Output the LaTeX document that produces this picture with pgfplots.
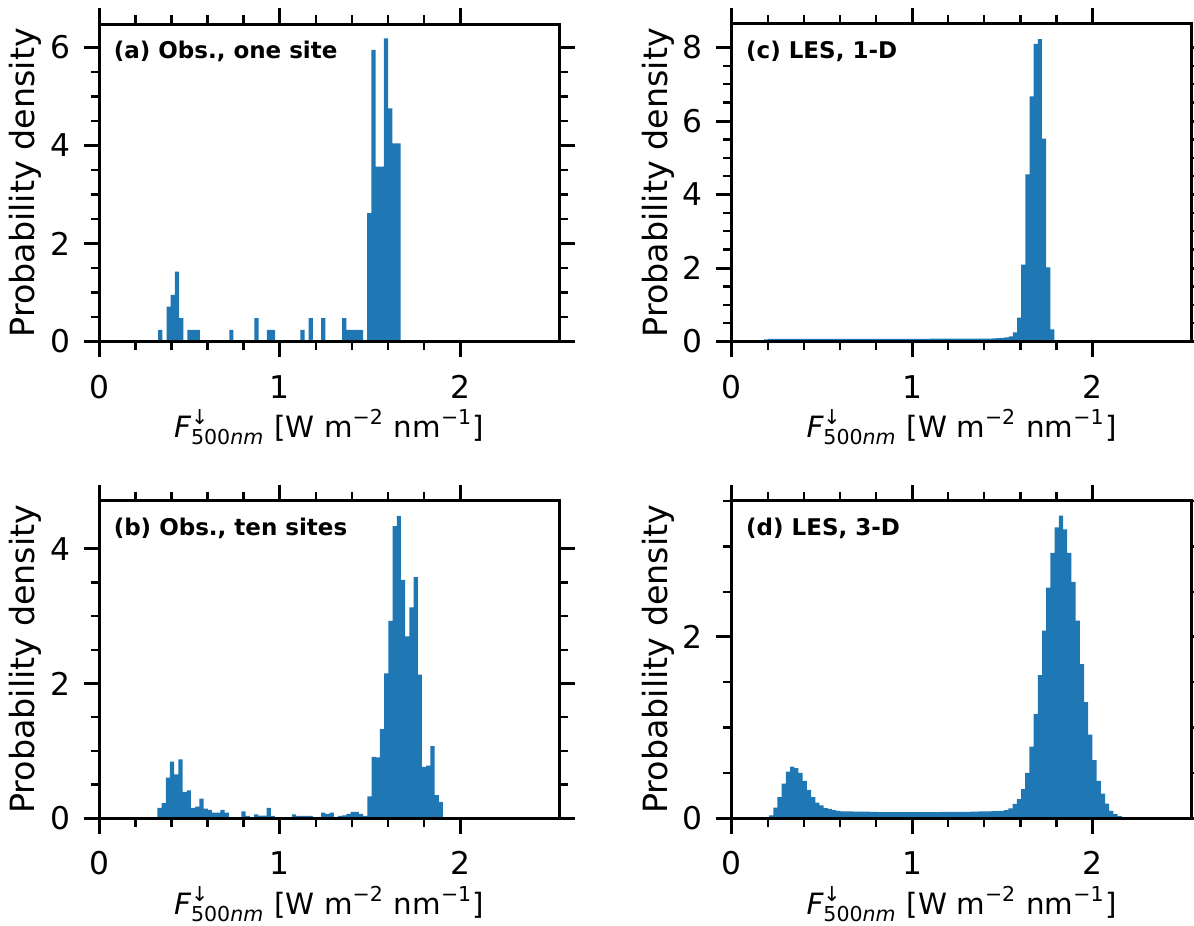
\documentclass[border=0pt]{standalone}
\usepackage{fontspec}
\setmainfont{DejaVu Sans}
\usepackage{amsmath}
\usepackage{pgfplots}
\pgfplotsset{compat=1.18}
\definecolor{histblue}{RGB}{31,119,180}

\pgfplotsset{
  panel/.style={
    scale only axis, width=138pt, height=95.25pt,
    xmin=0, xmax=2.55, ymin=0,
    xtick={0,1,2}, minor x tick num=4,
    ytick distance=2, minor y tick num=3,
    tick align=outside,
    major tick length=4.7pt, minor tick length=2.6pt,
    every major tick/.append style={line width=0.9pt, black},
    every minor tick/.append style={line width=0.7pt, black},
    axis line style={line width=0.9pt},
    axis on top,
    /pgf/number format/assume math mode=true,
    tick label style={font=\fontsize{9.4}{11}\selectfont},
    xticklabel style={anchor=base, yshift=-12.3pt},
    yticklabel style={anchor=east, inner sep=0pt, xshift=-3.9pt},
    label style={font=\fontsize{9.6}{11}\selectfont},
    every axis x label/.style={at={(axis description cs:0.5,-0.303)}, anchor=base,
      font=\fontsize{8.8}{10}\selectfont},
    every axis y label/.style={at={(axis description cs:-0.14,0.5)}, rotate=90, anchor=base},
    xlabel={$\textit{F}^{\text{↓}}_{\text{500}\textit{nm}}$ [W m\textsuperscript{−2} nm\textsuperscript{−1}]},
    ylabel={Probability density},
  },
  hist/.style={const plot, fill=histblue, draw=none, mark=none},
}
\tikzset{tag/.style={anchor=base west, inner sep=0pt, font=\bfseries\fontsize{6.9}{8}\selectfont}}

\begin{document}
\begin{tikzpicture}

% (a) observations, one site
\begin{axis}[panel, at={(29.79pt,-102.45pt)}, anchor=south west, ymax=6.48]
\addplot[hist] coordinates {
(0.3263,0.238) (0.3495,0) (0.3727,0.714) (0.3958,0.952) (0.4190,1.428) (0.4422,0.476)
(0.4654,0) (0.4886,0.238) (0.5117,0.238) (0.5349,0.238) (0.5581,0) (0.5813,0)
(0.6045,0) (0.6276,0) (0.6508,0) (0.6740,0) (0.6972,0) (0.7204,0.238) (0.7435,0)
(0.7667,0) (0.7899,0) (0.8131,0) (0.8363,0) (0.8594,0.476) (0.8826,0) (0.9058,0)
(0.9290,0.238) (0.9522,0.238) (0.9753,0) (0.9985,0) (1.0217,0) (1.0449,0) (1.0681,0)
(1.0912,0) (1.1144,0.238) (1.1376,0) (1.1608,0.476) (1.1840,0) (1.2071,0) (1.2303,0.476)
(1.2535,0) (1.2767,0) (1.2999,0) (1.3230,0) (1.3462,0.476) (1.3694,0.238) (1.3926,0.238)
(1.4158,0.238) (1.4389,0.238) (1.4621,0) (1.4853,2.618) (1.5085,5.950) (1.5317,3.570)
(1.5548,3.570) (1.5780,6.188) (1.6012,4.760) (1.6244,4.046) (1.6476,4.046) (1.6707,0)
} \closedcycle;
\node[tag] at (rel axis cs:0.03,0.89) {(a) Obs., one site};
\end{axis}

% (b) observations, ten sites
\begin{axis}[panel, at={(29.79pt,-245.4pt)}, anchor=south west, ymax=4.72]
\addplot[hist] coordinates {
(0.3220,0.15) (0.3453,0.22) (0.3686,0.60) (0.3918,0.84) (0.4151,0.65) (0.4384,0.87)
(0.4617,0.39) (0.4850,0.41) (0.5082,0.15) (0.5315,0.17) (0.5548,0.29) (0.5781,0.14)
(0.6014,0.12) (0.6246,0.08) (0.6479,0.08) (0.6712,0.12) (0.6945,0.08) (0.7178,0)
(0.7410,0) (0.7643,0) (0.7876,0.10) (0.8109,0.03) (0.8342,0) (0.8574,0.055)
(0.8807,0.035) (0.9040,0.035) (0.9273,0.15) (0.9506,0.03) (0.9738,0) (0.9971,0)
(1.0204,0) (1.0437,0) (1.0670,0.055) (1.0902,0.03) (1.1135,0.03) (1.1368,0.03)
(1.1601,0.03) (1.1834,0) (1.2066,0) (1.2299,0.08) (1.2532,0.06) (1.2765,0.08)
(1.2998,0) (1.3230,0.03) (1.3463,0.04) (1.3696,0.06) (1.3929,0.09) (1.4162,0.09)
(1.4394,0.06) (1.4627,0.03) (1.4860,0.32) (1.5093,0.91) (1.5326,0.90) (1.5558,1.32)
(1.5791,2.15) (1.6024,2.93) (1.6257,4.34) (1.6490,4.49) (1.6722,3.54) (1.6955,2.70)
(1.7188,3.13) (1.7421,3.58) (1.7654,2.13) (1.7886,0.76) (1.8119,0.78) (1.8352,1.07)
(1.8585,0.34) (1.8818,0.24) (1.9050,0)
} \closedcycle;
\node[tag] at (rel axis cs:0.03,0.89) {(b) Obs., ten sites};
\end{axis}

% (c) LES, 1-D
\begin{axis}[panel, at={(219.51pt,-102.45pt)}, anchor=south west, ymax=8.64]
\addplot[hist] coordinates {
(0.156,0.04) (0.179,0.06) (0.202,0.07) (0.225,0.07) (0.248,0.07) (0.271,0.07)
(0.294,0.07) (0.317,0.07) (0.340,0.07) (0.363,0.07) (0.386,0.07) (0.409,0.07)
(0.432,0.07) (0.455,0.07) (0.478,0.07) (0.501,0.07) (0.524,0.07) (0.547,0.07)
(0.570,0.07) (0.593,0.07) (0.616,0.07) (0.639,0.07) (0.662,0.07) (0.685,0.07)
(0.708,0.07) (0.731,0.07) (0.754,0.07) (0.777,0.07) (0.800,0.07) (0.823,0.07)
(0.846,0.07) (0.869,0.07) (0.892,0.07) (0.915,0.07) (0.938,0.07) (0.961,0.07)
(0.984,0.07) (1.007,0.07) (1.030,0.07) (1.053,0.07) (1.076,0.07) (1.099,0.075)
(1.122,0.075) (1.145,0.075) (1.168,0.075) (1.191,0.075) (1.214,0.075) (1.237,0.075)
(1.260,0.075) (1.283,0.075) (1.306,0.075) (1.329,0.08) (1.352,0.08) (1.375,0.08)
(1.398,0.08) (1.421,0.08) (1.444,0.085) (1.467,0.09) (1.490,0.10) (1.513,0.11)
(1.536,0.14) (1.559,0.25) (1.582,0.65) (1.605,2.09) (1.628,4.55) (1.651,6.67)
(1.674,8.10) (1.697,8.23) (1.720,5.52) (1.743,2.02) (1.766,0.33) (1.789,0)
} \closedcycle;
\node[tag] at (rel axis cs:0.03,0.89) {(c) LES, 1-D};
\end{axis}

% (d) LES, 3-D
\begin{axis}[panel, at={(219.51pt,-245.4pt)}, anchor=south west, ymax=3.508]
\addplot[hist] coordinates {
(0.2070,0.030) (0.2303,0.114) (0.2536,0.232) (0.2768,0.379) (0.3001,0.512) (0.3234,0.567)
(0.3467,0.552) (0.3700,0.500) (0.3932,0.410) (0.4165,0.310) (0.4398,0.232) (0.4631,0.170)
(0.4864,0.140) (0.5096,0.110) (0.5329,0.100) (0.5562,0.088) (0.5795,0.080) (0.6028,0.074)
(0.6260,0.074) (0.6493,0.074) (0.6726,0.070) (0.6959,0.070) (0.7192,0.070) (0.7424,0.070)
(0.7657,0.068) (0.7890,0.068) (0.8123,0.066) (0.8356,0.066) (0.8588,0.066) (0.8821,0.065)
(0.9054,0.065) (0.9287,0.065) (0.9520,0.064) (0.9752,0.064) (0.9985,0.064) (1.0218,0.064)
(1.0451,0.065) (1.0684,0.065) (1.0916,0.066) (1.1149,0.066) (1.1382,0.066) (1.1615,0.067)
(1.1848,0.067) (1.2080,0.068) (1.2313,0.068) (1.2546,0.068) (1.2779,0.069) (1.3012,0.069)
(1.3244,0.070) (1.3477,0.071) (1.3710,0.072) (1.3943,0.073) (1.4176,0.074) (1.4408,0.075)
(1.4641,0.077) (1.4874,0.080) (1.5107,0.088) (1.5340,0.107) (1.5572,0.155) (1.5805,0.210)
(1.6038,0.320) (1.6271,0.500) (1.6504,0.790) (1.6736,1.150) (1.6969,1.580) (1.7202,2.070)
(1.7435,2.545) (1.7668,2.930) (1.7900,3.210) (1.8133,3.340) (1.8366,3.190) (1.8599,2.930)
(1.8832,2.610) (1.9064,2.180) (1.9297,1.700) (1.9530,1.280) (1.9763,0.920) (1.9996,0.640)
(2.0228,0.410) (2.0461,0.270) (2.0694,0.160) (2.0927,0.080) (2.1160,0.044) (2.1392,0.020)
(2.1625,0)
} \closedcycle;
\node[tag] at (rel axis cs:0.03,0.89) {(d) LES, 3-D};
\end{axis}

% page = the reference frame; the outward right-hand ticks are cut at its edge
\pgfresetboundingbox
\path[use as bounding box] (0,0) rectangle (358.2pt,-277.8pt);
\end{tikzpicture}
\end{document}
